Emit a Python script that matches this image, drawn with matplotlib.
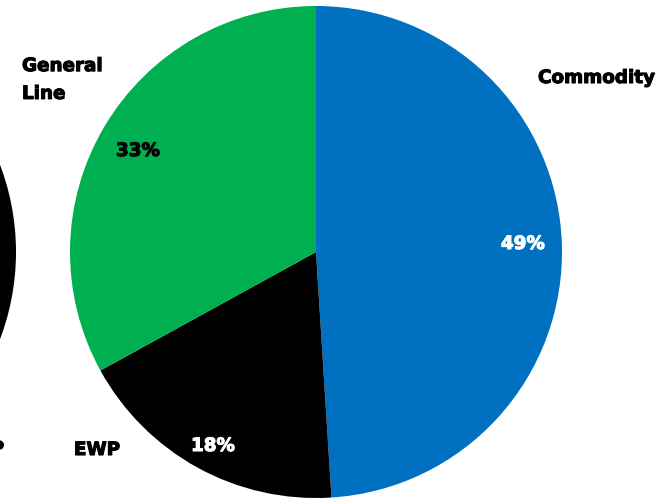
import matplotlib.pyplot as plt
import matplotlib.patheffects as pe

# channel split of the main pie
categories = ['Commodity', 'EWP', 'General Line']
shares = [49, 18, 33]
colors = ['#0070C0', '#000000', '#00B050']
pct_colors = ['white', 'white', 'black']

# neighbouring pie, only its right edge shows
side_categories = ['EWP']
side_shares = [100]

W, H = 672, 498
fig = plt.figure(figsize=(W / 100, H / 100), dpi=100)
ax = fig.add_axes([0, 0, 1, 1])

wedges, texts, autotexts = ax.pie(
    shares, colors=colors, startangle=90, counterclock=False,
    center=(316, 246), radius=246, autopct='%1.0f%%',
    wedgeprops=dict(linewidth=0),
)
ax.pie(side_shares, colors=['#000000'], center=(-230, 246), radius=246,
       wedgeprops=dict(linewidth=0))

font = dict(family='DejaVu Sans', weight='bold', fontsize=13.2)


def heavy(color):
    return [pe.withStroke(linewidth=0.8, foreground=color)]


# percentage labels
pct_pos = [(523, 254), (213, 52), (138, 347)]
for t, (x, y), c in zip(autotexts, pct_pos, pct_colors):
    t.set_position((x, y))
    t.set_color(c)
    t.set(**font)
    t.set_ha('center')
    t.set_va('center')
    t.set_path_effects(heavy(c))

# category labels
labels = [
    ax.text(538, 420, categories[0], ha='left', va='center', **font),
    ax.text(97, 48, categories[1], ha='center', va='center', **font),
    ax.text(22, 418, 'General\nLine', ha='left', va='center', linespacing=1.7, **font),
    ax.text(-19, 49, side_categories[0], ha='center', va='center', **font),
]
for t in labels:
    t.set_path_effects(heavy('black'))

ax.set_xlim(0, W)
ax.set_ylim(0, H)
ax.set_aspect('auto')
ax.axis('off')

fig.savefig('out.png', dpi=100)
